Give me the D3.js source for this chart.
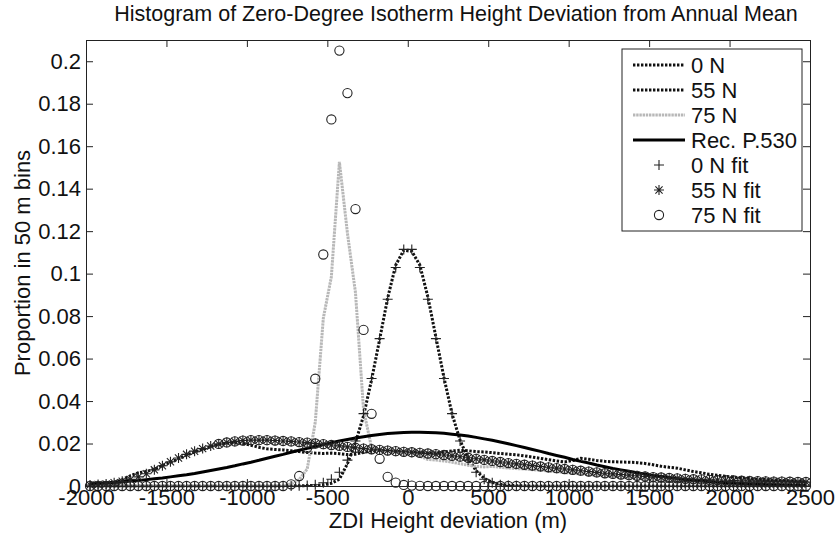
<!DOCTYPE html>
<html>
<head>
<meta charset="utf-8">
<script src="https://cdn.jsdelivr.net/npm/d3@7"></script>
<style>
body { margin: 0; background: #fff; }
svg { display: block; font-family: "Liberation Sans", Arial, sans-serif; }
</style>
</head>
<body>
<svg id="chart" width="837" height="540"></svg>
<script>
// centres of the 50 m bins (m)
var binCentres = [-1975,-1925,-1875,-1825,-1775,-1725,-1675,-1625,-1575,-1525,
  -1475,-1425,-1375,-1325,-1275,-1225,-1175,-1125,-1075,-1025,
  -975,-925,-875,-825,-775,-725,-675,-625,-575,-525,
  -475,-425,-375,-325,-275,-225,-175,-125,-75,-25,
  25,75,125,175,225,275,325,375,425,475,
  525,575,625,675,725,775,825,875,925,975,
  1025,1075,1125,1175,1225,1275,1325,1375,1425,1475,
  1525,1575,1625,1675,1725,1775,1825,1875,1925,1975,
  2025,2075,2125,2175,2225,2275,2325,2375,2425,2475];

var n0 = [0,0,0,0,0,0,0,0,0,0,
  0,0,0,0,0,0,0,0,0,0,
  0,0,0,0,0,0.0001,0.0001,0.0002,0.0003,0.0006,
  0.0013,0.0032,0.0105,0.0205,0.0330,0.0500,0.0690,0.0885,0.1040,0.1110,
  0.1105,0.1040,0.0890,0.0700,0.0510,0.0340,0.0215,0.0130,0.0072,0.0036,
  0.0017,0.0008,0.0004,0.0002,0.0001,0,0,0,0,0,
  0,0,0,0,0,0,0,0,0,0,
  0,0,0,0,0,0,0,0,0,0,
  0,0,0,0,0,0,0,0,0,0];

var n55 = [0.0006,0.0008,0.0012,0.0018,0.0030,0.0048,0.0062,0.0068,0.0080,0.0096,
  0.0112,0.0128,0.0145,0.0160,0.0172,0.0185,0.0196,0.0202,0.0204,0.0200,
  0.0192,0.0182,0.0175,0.0172,0.0170,0.0166,0.0162,0.0158,0.0155,0.0153,
  0.0155,0.0152,0.0148,0.0150,0.0158,0.0165,0.0168,0.0166,0.0163,0.0162,
  0.0160,0.0158,0.0155,0.0156,0.0160,0.0165,0.0168,0.0166,0.0162,0.0160,
  0.0157,0.0153,0.0150,0.0147,0.0142,0.0136,0.0130,0.0124,0.0118,0.0113,
  0.0120,0.0130,0.0126,0.0120,0.0116,0.0114,0.0113,0.0112,0.0110,0.0106,
  0.0100,0.0093,0.0088,0.0084,0.0076,0.0068,0.0062,0.0055,0.0050,0.0046,
  0.0042,0.0038,0.0035,0.0032,0.0030,0.0028,0.0026,0.0024,0.0022,0.0020];

var n75 = [0,0,0,0,0,0,0,0,0,0,
  0,0,0,0,0,0,0,0,0,0,
  0,0,0,0,0.0002,0.0010,0.0030,0.0080,0.0300,0.0790,
  0.0985,0.1526,0.1190,0.0910,0.0360,0.0180,0.0170,0.0165,0.0158,0.0155,
  0.0152,0.0140,0.0125,0.0122,0.0118,0.0112,0.0105,0.0098,0.0092,0.0090,
  0.0092,0.0088,0.0085,0.0082,0.0080,0.0077,0.0074,0.0070,0.0067,0.0063,
  0.0060,0.0057,0.0054,0.0051,0.0048,0.0045,0.0042,0.0039,0.0036,0.0033,
  0.0030,0.0027,0.0025,0.0023,0.0021,0.0019,0.0017,0.0015,0.0014,0.0013,
  0.0012,0.0011,0.0010,0.0010,0.0009,0.0008,0.0008,0.0007,0.0007,0.0006];

var recP530 = [0.0011,0.0013,0.0015,0.0017,0.0020,0.0023,0.0026,0.0030,0.0034,0.0038,
  0.0043,0.0048,0.0053,0.0059,0.0066,0.0073,0.0080,0.0087,0.0095,0.0104,
  0.0112,0.0121,0.0131,0.0140,0.0149,0.0159,0.0168,0.0177,0.0186,0.0195,
  0.0204,0.0212,0.0219,0.0226,0.0232,0.0238,0.0243,0.0247,0.0250,0.0252,
  0.0253,0.0253,0.0252,0.0251,0.0248,0.0244,0.0240,0.0235,0.0229,0.0222,
  0.0215,0.0207,0.0199,0.0190,0.0181,0.0172,0.0163,0.0153,0.0144,0.0135,
  0.0125,0.0116,0.0108,0.0099,0.0091,0.0083,0.0076,0.0069,0.0062,0.0056,
  0.0050,0.0045,0.0040,0.0035,0.0031,0.0028,0.0024,0.0021,0.0018,0.0016,
  0.0014,0.0012,0.0010,0.0009,0.0007,0.0006,0.0005,0.0004,0.0004,0.0003];

var fit0 = [0,0,0,0,0,0,0,0,0,0,
  0,0,0,0,0,0,0,0,0,0,
  0,0,0,0,0,0,0.0001,0.0002,0.0006,0.0015,
  0.0032,0.0065,0.0122,0.0212,0.0341,0.0506,0.0694,0.0879,0.1029,0.1114,
  0.1114,0.1029,0.0879,0.0694,0.0506,0.0341,0.0212,0.0122,0.0065,0.0032,
  0.0015,0.0006,0.0002,0.0001,0,0,0,0,0,0,
  0,0,0,0,0,0,0,0,0,0,
  0,0,0,0,0,0,0,0,0,0,
  0,0,0,0,0,0,0,0,0,0];

var fit55 = [0.0005,0.0007,0.0010,0.0015,0.0022,0.0031,0.0043,0.0058,0.0076,0.0095,
  0.0114,0.0132,0.0149,0.0164,0.0176,0.0188,0.0198,0.0205,0.0210,0.0214,
  0.0216,0.0216,0.0216,0.0214,0.0212,0.0210,0.0207,0.0204,0.0200,0.0197,
  0.0193,0.0189,0.0184,0.0180,0.0176,0.0173,0.0170,0.0167,0.0164,0.0161,
  0.0159,0.0156,0.0153,0.0150,0.0146,0.0142,0.0138,0.0133,0.0128,0.0123,
  0.0118,0.0113,0.0108,0.0104,0.0100,0.0096,0.0092,0.0088,0.0084,0.0080,
  0.0076,0.0072,0.0068,0.0064,0.0060,0.0057,0.0054,0.0051,0.0048,0.0045,
  0.0042,0.0040,0.0038,0.0036,0.0034,0.0032,0.0031,0.0029,0.0028,0.0027,
  0.0026,0.0025,0.0024,0.0023,0.0022,0.0021,0.0021,0.0020,0.0019,0.0019];

var fit75 = [0,0,0,0,0,0,0,0,0,0,
  0,0,0,0,0,0,0,0,0,0,
  0,0,0,0,0,0.0008,0.0047,0.0180,0.0505,0.1090,
  0.1726,0.2050,0.1850,0.1304,0.0735,0.0340,0.0128,0.0043,0.0016,0.0005,
  0.0002,0.0001,0,0,0,0,0,0,0,0,
  0,0,0,0,0,0,0,0,0,0,
  0,0,0,0,0,0,0,0,0,0,
  0,0,0,0,0,0,0,0,0,0,
  0,0,0,0,0,0,0,0,0,0];

// circle markers that sit on the 55 N fit row (no legend entry), bins -1175 .. 2475
var ringBins = [-1175,-1125,-1075,-1025,-975,-925,-875,-825,-775,-725,
  -675,-625,-575,-525,-475,-425,-375,-325,-275,-225,
  -175,-125,-75,-25,25,75,125,175,225,275,
  325,375,425,475,525,575,625,675,725,775,
  825,875,925,975,1025,1075,1125,1175,1225,1275,
  1325,1375,1425,1475,1525,1575,1625,1675,1725,1775,
  1825,1875,1925,1975,2025,2075,2125,2175,2225,2275,
  2325,2375,2425,2475];
var ringVals = [0.0198,0.0205,0.0210,0.0214,0.0216,0.0216,0.0216,0.0214,0.0212,0.0210,
  0.0207,0.0204,0.0200,0.0197,0.0193,0.0189,0.0184,0.0180,0.0176,0.0173,
  0.0170,0.0167,0.0164,0.0161,0.0159,0.0156,0.0153,0.0150,0.0146,0.0142,
  0.0138,0.0133,0.0128,0.0123,0.0118,0.0113,0.0108,0.0104,0.0100,0.0096,
  0.0092,0.0088,0.0084,0.0080,0.0076,0.0072,0.0068,0.0064,0.0060,0.0057,
  0.0054,0.0051,0.0048,0.0045,0.0042,0.0040,0.0038,0.0036,0.0034,0.0032,
  0.0031,0.0029,0.0028,0.0027,0.0026,0.0025,0.0024,0.0023,0.0022,0.0021,
  0.0021,0.0020,0.0019,0.0019];

var xTicks = [-2000,-1500,-1000,-500,0,500,1000,1500,2000,2500];
var yTicks = [0,0.02,0.04,0.06,0.08,0.1,0.12,0.14,0.16,0.18,0.2];

var svg = d3.select('#chart');
var x = d3.scaleLinear().domain([-2000, 2500]).range([86, 810]);
var y = d3.scaleLinear().domain([0, 0.21]).range([486, 40]);
var fontSize = 22;

function zip(vals, xs) {
    xs = xs || binCentres;
    return xs.map(function(c, i) { return [c, vals[i]]; });
}

var lineGen = d3.line()
    .x(function(d) { return x(d[0]); })
    .y(function(d) { return y(d[1]); });

// data lines
var lineStyles = [
    {vals: n0, stroke: '#111', dash: '2.4,1.6', width: 3},
    {vals: n55, stroke: '#111', dash: '2.4,1.6', width: 3},
    {vals: n75, stroke: '#b8b8b8', dash: '2.4,0.8', width: 3},
    {vals: recP530, stroke: '#000', dash: null, width: 3}
];

lineStyles.forEach(function(s) {
    svg.append('path')
        .datum(zip(s.vals))
        .attr('d', lineGen)
        .attr('fill', 'none')
        .attr('stroke', s.stroke)
        .attr('stroke-width', s.width)
        .attr('stroke-dasharray', s.dash);
});

// marker shapes
var plusPath = 'M-5,0H5M0,-5V5';
var starPath = 'M-5,0H5M0,-5V5M-3.6,-3.6L3.6,3.6M-3.6,3.6L3.6,-3.6';

function drawMarkers(pts, kind) {
    var g = svg.append('g');
    if (kind === 'o') {
        g.selectAll('circle').data(pts).enter().append('circle')
            .attr('cx', function(d) { return x(d[0]); })
            .attr('cy', function(d) { return y(d[1]); })
            .attr('r', 4.6)
            .attr('fill', 'none')
            .attr('stroke', '#222')
            .attr('stroke-width', 1.1);
    } else {
        g.selectAll('path').data(pts).enter().append('path')
            .attr('transform', function(d) { return 'translate(' + x(d[0]) + ',' + y(d[1]) + ')'; })
            .attr('d', kind === '+' ? plusPath : starPath)
            .attr('fill', 'none')
            .attr('stroke', '#222')
            .attr('stroke-width', 1.1);
    }
}

drawMarkers(zip(fit0), '+');
drawMarkers(zip(fit55), '*');
drawMarkers(zip(ringVals, ringBins), 'o');
drawMarkers(zip(fit75), 'o');

// axes box, ticks inside (matlab style)
var axisColor = '#222';
var plain = function(d) { return String(d); };
var axBottom = svg.append('g').attr('transform', 'translate(0,486)')
    .call(d3.axisBottom(x).tickValues(xTicks).tickSizeInner(-7).tickSizeOuter(0).tickPadding(3).tickFormat(plain));
var axTop = svg.append('g').attr('transform', 'translate(0,40)')
    .call(d3.axisTop(x).tickValues(xTicks).tickSizeInner(-7).tickSizeOuter(0).tickFormat(''));
var axLeft = svg.append('g').attr('transform', 'translate(86,0)')
    .call(d3.axisLeft(y).tickValues(yTicks).tickSizeInner(-7).tickSizeOuter(0).tickPadding(5).tickFormat(plain));
var axRight = svg.append('g').attr('transform', 'translate(810,0)')
    .call(d3.axisRight(y).tickValues(yTicks).tickSizeInner(-7).tickSizeOuter(0).tickFormat(''));

[axBottom, axTop, axLeft, axRight].forEach(function(a) {
    a.select('.domain').attr('stroke', axisColor);
    a.selectAll('.tick line').attr('stroke', axisColor);
    a.selectAll('text').attr('font-size', fontSize).attr('fill', '#111')
        .attr('font-family', '"Liberation Sans", Arial, sans-serif');
});

// titles
svg.append('text')
    .attr('x', 456).attr('y', 21)
    .attr('text-anchor', 'middle')
    .attr('font-size', 21.5)
    .attr('fill', '#111')
    .text('Histogram of Zero-Degree Isotherm Height Deviation from Annual Mean');

svg.append('text')
    .attr('x', 448).attr('y', 528)
    .attr('text-anchor', 'middle')
    .attr('font-size', fontSize)
    .attr('fill', '#111')
    .text('ZDI Height deviation (m)');

svg.append('text')
    .attr('transform', 'translate(30,263) rotate(-90)')
    .attr('text-anchor', 'middle')
    .attr('font-size', fontSize)
    .attr('fill', '#111')
    .text('Proportion in 50 m bins');

// legend
var legendItems = [
    {label: '0 N', type: 'line', stroke: '#111', dash: '2.4,1.6'},
    {label: '55 N', type: 'line', stroke: '#111', dash: '2.4,1.6'},
    {label: '75 N', type: 'line', stroke: '#b8b8b8', dash: '2.4,0.8'},
    {label: 'Rec. P.530', type: 'line', stroke: '#000', dash: null},
    {label: '0 N fit', type: '+'},
    {label: '55 N fit', type: '*'},
    {label: '75 N fit', type: 'o'}
];

var legend = svg.append('g');
legend.append('rect')
    .attr('x', 622).attr('y', 49)
    .attr('width', 180).attr('height', 182)
    .attr('fill', '#fff')
    .attr('stroke', '#222')
    .attr('stroke-width', 1);

legendItems.forEach(function(item, i) {
    var cy = 65 + i * 25;
    if (item.type === 'line') {
        legend.append('line')
            .attr('x1', 633).attr('x2', 685)
            .attr('y1', cy).attr('y2', cy)
            .attr('stroke', item.stroke)
            .attr('stroke-width', 3)
            .attr('stroke-dasharray', item.dash);
    } else if (item.type === 'o') {
        legend.append('circle')
            .attr('cx', 659).attr('cy', cy).attr('r', 4.6)
            .attr('fill', 'none').attr('stroke', '#222').attr('stroke-width', 1.1);
    } else {
        legend.append('path')
            .attr('transform', 'translate(659,' + cy + ')')
            .attr('d', item.type === '+' ? plusPath : starPath)
            .attr('fill', 'none').attr('stroke', '#222').attr('stroke-width', 1.1);
    }
    legend.append('text')
        .attr('x', 691).attr('y', cy)
        .attr('dy', '0.35em')
        .attr('font-size', fontSize)
        .attr('fill', '#111')
        .text(item.label);
});
</script>
</body>
</html>
